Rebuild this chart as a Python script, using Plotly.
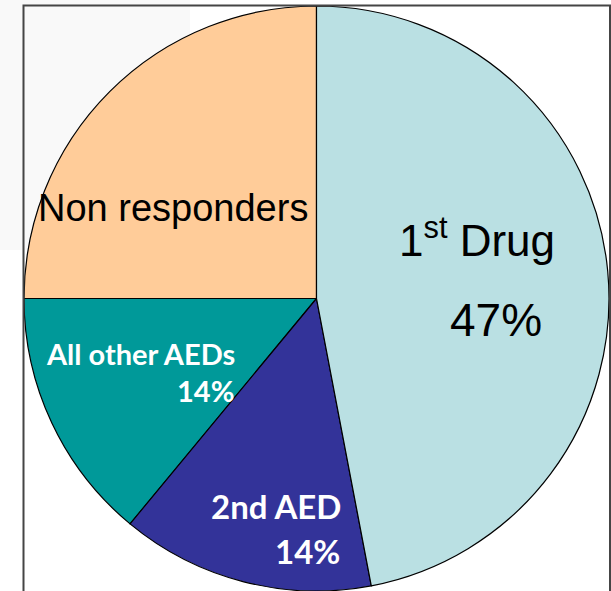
import plotly.graph_objects as go

# Response to successive antiepileptic drugs (share of patients, %)
labels = ["Non responders", "All other AEDs", "2nd AED", "1st Drug"]
values = [25, 14, 14, 47]
colors = ["#FFCC99", "#009999", "#333399", "#BAE0E3"]

W, H = 611, 591


def px(x):
    return x / W


def py(y):
    return 1 - y / H


fig = go.Figure(
    go.Pie(
        labels=labels,
        values=values,
        sort=False,
        direction="counterclockwise",
        rotation=-90,
        textinfo="none",
        hoverinfo="label+percent",
        marker=dict(colors=colors, line=dict(color="#000000", width=1.2)),
        domain=dict(x=[px(24), px(609)], y=[py(591), py(6)]),
    )
)

arial = "Arial, Liberation Sans, sans-serif"
bold_sans = "Lato, Open Sans, sans-serif"

annotations = [
    # Non responders
    dict(text=labels[0], x=px(173), y=py(208), xanchor="center", yanchor="middle",
         font=dict(family=arial, size=38, color="black")),
    # 1st Drug
    dict(text="1<sup>st</sup> Drug", x=px(477), y=py(237), xanchor="center", yanchor="middle",
         font=dict(family=arial, size=44, color="black")),
    dict(text=f"{values[3]}%", x=px(496), y=py(320), xanchor="center", yanchor="middle",
         font=dict(family=arial, size=46, color="black")),
    # All other AEDs
    dict(text=f"<b>{labels[1]}</b>", x=px(140), y=py(353), xanchor="center", yanchor="middle",
         font=dict(family=bold_sans, size=29, color="white")),
    dict(text=f"<b>{values[1]}%</b>", x=px(236), y=py(390), xanchor="right", yanchor="middle",
         font=dict(family=bold_sans, size=29, color="white")),
    # 2nd AED
    dict(text=f"<b>{labels[2]}</b>", x=px(276), y=py(506), xanchor="center", yanchor="middle",
         font=dict(family=bold_sans, size=33, color="white")),
    dict(text=f"<b>{values[2]}%</b>", x=px(342), y=py(551), xanchor="right", yanchor="middle",
         font=dict(family=bold_sans, size=33, color="white")),
]
for a in annotations:
    a.update(xref="paper", yref="paper", showarrow=False)

shapes = [
    # faint backdrop in the upper-left corner
    dict(type="rect", xref="paper", yref="paper", layer="below",
         x0=0, x1=px(190), y0=py(250), y1=1,
         fillcolor="#F9F9F9", line=dict(width=0)),
    # frame around the pie
    dict(type="rect", xref="paper", yref="paper", layer="above",
         x0=px(23.5), x1=px(610), y0=-0.05, y1=py(5.5),
         fillcolor="rgba(0,0,0,0)", line=dict(color="#454545", width=2)),
]

fig.update_layout(
    width=W,
    height=H,
    margin=dict(l=0, r=0, t=0, b=0),
    paper_bgcolor="white",
    plot_bgcolor="white",
    showlegend=False,
    annotations=annotations,
    shapes=shapes,
)

fig.write_html("out.html")
